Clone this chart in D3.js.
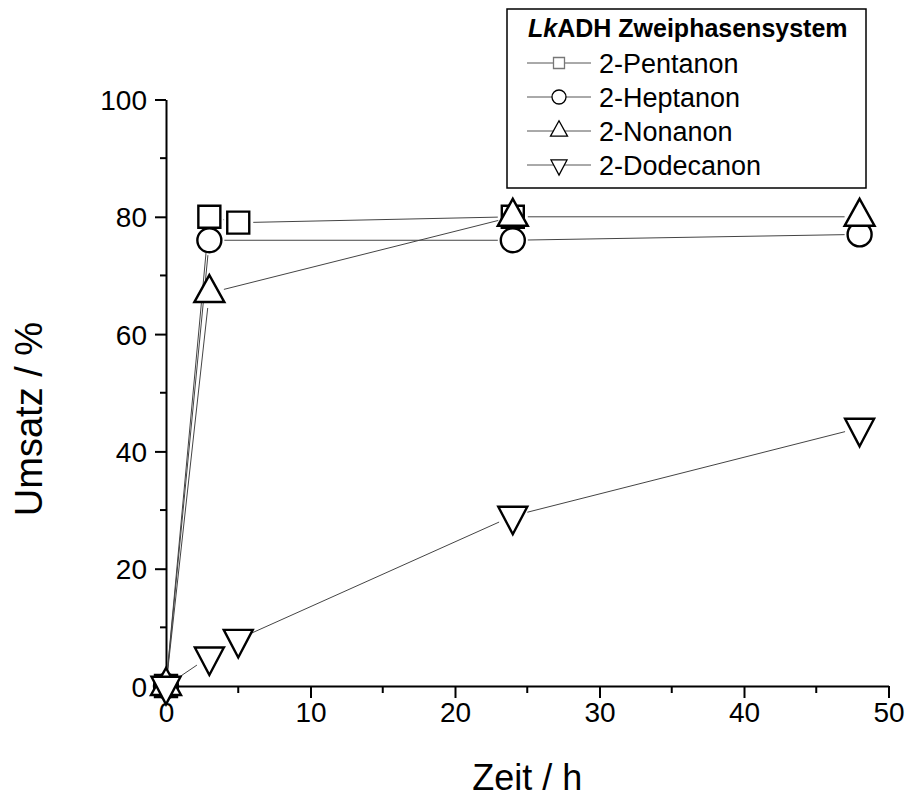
<!DOCTYPE html>
<html>
<head>
<meta charset="utf-8">
<script src="https://cdn.jsdelivr.net/npm/d3@7"></script>
<style>
  html, body { margin: 0; padding: 0; background: #fff; }
  svg text { font-family: "Liberation Sans", Arial, sans-serif; }
</style>
</head>
<body>
<div id="chart"></div>
<script>
// ---- data ----
const seriesNames = ["2-Pentanon", "2-Heptanon", "2-Nonanon", "2-Dodecanon"];
const seriesSymbols = ["square", "circle", "triangleUp", "triangleDown"];
const pentanon  = [[0, 0], [3, 80], [5, 79], [24, 80]];
const heptanon  = [[0, 0], [3, 76], [24, 76], [48, 77]];
const nonanon   = [[0, 0], [3, 67], [24, 80], [48, 80]];
const dodecanon = [[0, 0], [3, 5], [5, 8], [24, 29], [48, 44]];
const xTicks = [0, 10, 20, 30, 40, 50];
const yTicks = [0, 20, 40, 60, 80, 100];
const legendTitleItalic = "Lk";
const legendTitleRest = "ADH Zweiphasensystem";
const xLabel = "Zeit / h";
const yLabel = "Umsatz / %";

const allSeries = [pentanon, heptanon, nonanon, dodecanon];

// ---- layout ----
const W = 910, H = 798;
const svg = d3.select("#chart").append("svg").attr("width", W).attr("height", H);

const x = d3.scaleLinear().domain([0, 50]).range([166, 888.5]);
const y = d3.scaleLinear().domain([0, 100]).range([686, 99.5]);

// axes
const xAxis = d3.axisBottom(x).tickValues(xTicks).tickFormat(d3.format("d")).tickSize(12).tickSizeOuter(0).tickPadding(6);
const yAxis = d3.axisLeft(y).tickValues(yTicks).tickFormat(d3.format("d")).tickSize(11).tickSizeOuter(0).tickPadding(8);

const gx = svg.append("g").attr("transform", `translate(0,${y(0)})`).call(xAxis);
const gy = svg.append("g").attr("transform", `translate(${x(0)},0)`).call(yAxis);

// minor ticks
const xMinor = d3.range(5, 50, 10);
const yMinor = d3.range(10, 100, 20);
svg.append("g").selectAll("line").data(xMinor).join("line")
  .attr("x1", d => x(d)).attr("x2", d => x(d))
  .attr("y1", y(0)).attr("y2", y(0) + 7)
  .attr("stroke", "#000").attr("stroke-width", 2);
svg.append("g").selectAll("line").data(yMinor).join("line")
  .attr("x1", x(0) - 6).attr("x2", x(0))
  .attr("y1", d => y(d)).attr("y2", d => y(d))
  .attr("stroke", "#000").attr("stroke-width", 2);

[gx, gy].forEach(g => {
  g.select(".domain").attr("stroke", "#000").attr("stroke-width", 2);
  g.selectAll(".tick line").attr("stroke", "#000").attr("stroke-width", 2);
  g.selectAll(".tick text").attr("fill", "#000").style("font-size", "28px")
    .style("font-family", "'Liberation Sans', Arial, sans-serif");
});
gx.selectAll(".tick text").attr("dy", "0.71em").attr("y", 16);
gy.selectAll(".tick text").attr("dy", "0.36em");

// axis titles
svg.append("text").attr("x", (x(0) + x(50)) / 2).attr("y", 790)
  .attr("text-anchor", "middle").style("font-size", "36px").attr("fill", "#000").text(xLabel);
svg.append("text").attr("transform", `translate(42,419) rotate(-90)`)
  .attr("text-anchor", "middle").style("font-size", "38px").attr("fill", "#000").text(yLabel);

// symbol paths
function symbolPath(type, s) {
  if (type === "square") return `M${-s},${-s}H${s}V${s}H${-s}Z`;
  if (type === "circle") return `M${s},0A${s},${s} 0 1,1 ${-s},0A${s},${s} 0 1,1 ${s},0Z`;
  if (type === "triangleUp") { const h = s * 1.8; return `M0,${-h * 2 / 3}L${s},${h / 3}L${-s},${h / 3}Z`; }
  if (type === "triangleDown") { const h = s * 1.9; return `M0,${h * 2 / 3}L${s},${-h / 3}L${-s},${-h / 3}Z`; }
}
const markerHalf = { square: 11, circle: 12, triangleUp: 15, triangleDown: 14.5 };

// lines (segments with small gaps at markers, Origin style)
const gap = 15;
allSeries.forEach((data, i) => {
  const pts = data.map(d => [x(d[0]), y(d[1])]);
  const segs = d3.pairs(pts);
  svg.append("g").selectAll("line").data(segs).join("line")
    .each(function([a, b]) {
      const dx = b[0] - a[0], dy = b[1] - a[1];
      const len = Math.hypot(dx, dy);
      const ux = dx / len, uy = dy / len;
      d3.select(this)
        .attr("x1", a[0] + ux * gap).attr("y1", a[1] + uy * gap)
        .attr("x2", b[0] - ux * gap).attr("y2", b[1] - uy * gap);
    })
    .attr("stroke", "#444").attr("stroke-width", 1);
});

// markers
allSeries.forEach((data, i) => {
  const t = seriesSymbols[i];
  svg.append("g").selectAll("path").data(data).join("path")
    .attr("transform", d => `translate(${x(d[0])},${y(d[1])})`)
    .attr("d", symbolPath(t, markerHalf[t]))
    .attr("fill", "#fff").attr("stroke", "#000").attr("stroke-width", 2.4)
    .attr("stroke-linejoin", "miter");
});

// legend
const lg = svg.append("g");
lg.append("rect").attr("x", 507).attr("y", 9).attr("width", 359).attr("height", 179)
  .attr("fill", "#fff").attr("stroke", "#000").attr("stroke-width", 1.5);
const title = lg.append("text").attr("x", 528).attr("y", 37)
  .style("font-size", "25px").style("font-weight", "bold").attr("fill", "#000");
title.append("tspan").style("font-style", "italic").text(legendTitleItalic);
title.append("tspan").text(legendTitleRest);

const legHalf = { square: 5.5, circle: 7, triangleUp: 8.5, triangleDown: 8 };
seriesNames.forEach((name, i) => {
  const cy = 63 + i * 34;
  const t = seriesSymbols[i];
  lg.append("line").attr("x1", 527).attr("x2", 591).attr("y1", cy).attr("y2", cy)
    .attr("stroke", "#555").attr("stroke-width", 1);
  lg.append("path").attr("transform", `translate(559,${cy})`)
    .attr("d", symbolPath(t, legHalf[t]))
    .attr("fill", "#fff").attr("stroke", t === "square" ? "#777" : "#000").attr("stroke-width", 1.3);
  lg.append("text").attr("x", 599).attr("y", cy + 9.5)
    .style("font-size", "27px").attr("fill", "#000").text(name);
});
</script>
</body>
</html>
